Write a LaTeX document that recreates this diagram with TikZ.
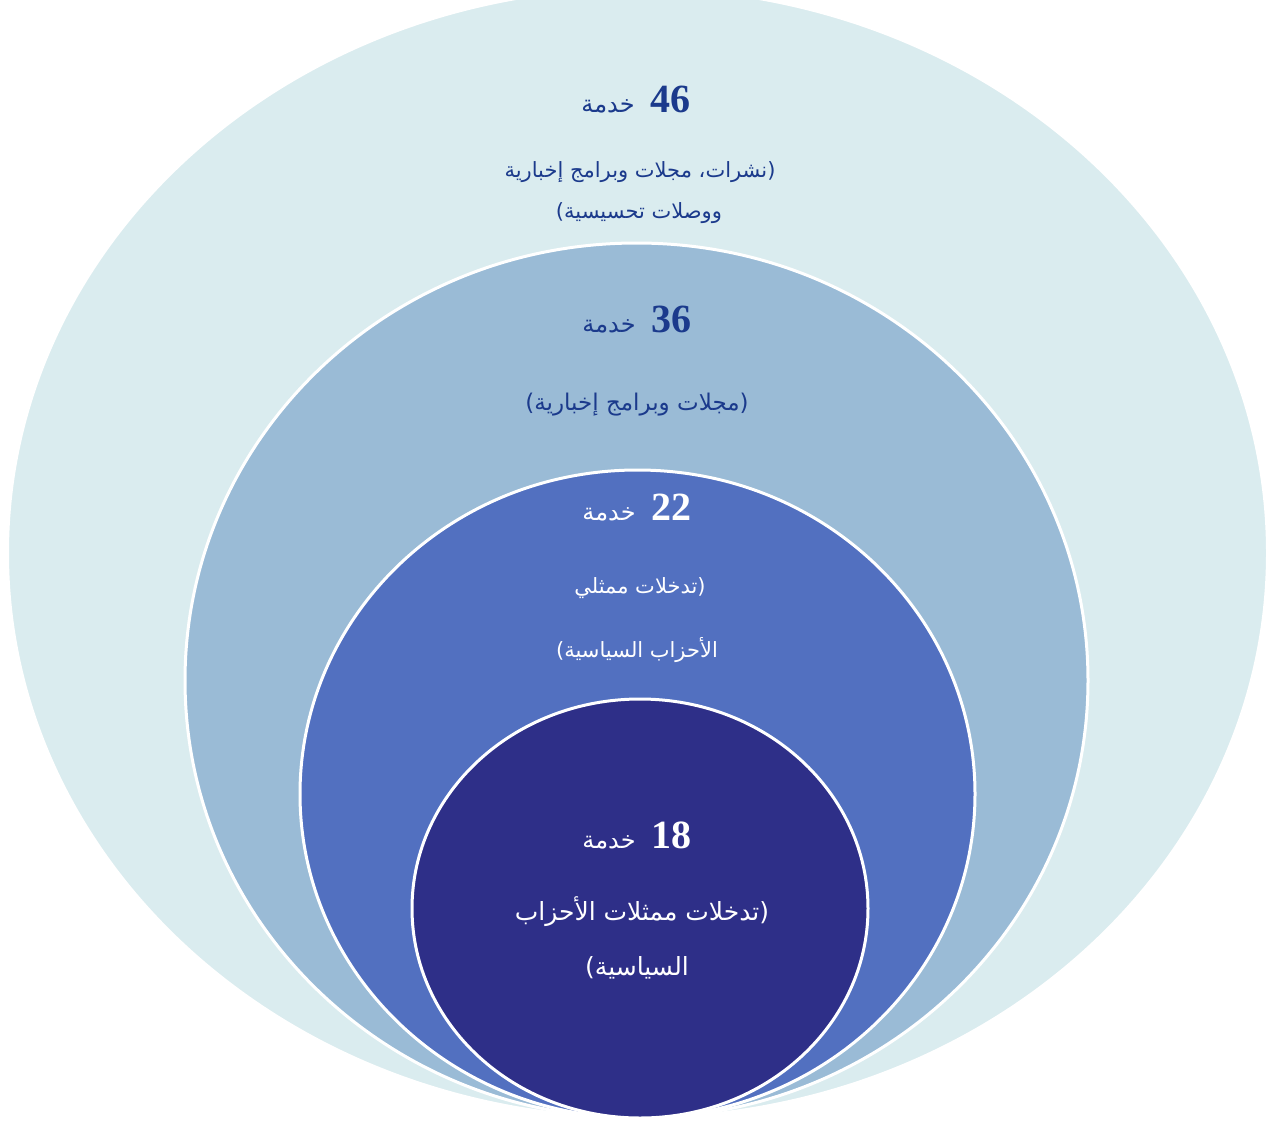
\documentclass[tikz,border=0pt]{standalone}
\usepackage{fontspec}
\usetikzlibrary{shapes.geometric}
\TeXXeTstate=1
\newfontfamily\arabicfont[Script=Arabic]{DejaVu Sans}
\newfontfamily\numfont{Liberation Serif}
\definecolor{ringA}{HTML}{DAECEF}
\definecolor{ringB}{HTML}{9ABBD6}
\definecolor{ringC}{HTML}{5270C0}
\definecolor{ringD}{HTML}{2E2F88}
\definecolor{navytxt}{HTML}{1B3A8C}
\tikzset{
  ring/.style={ellipse, draw=white, line width=3pt, inner sep=0pt},
  lbl/.style={inner sep=0pt, anchor=center},
  numlbl/.style={lbl},
  arA/.style={lbl, font=\fontsize{21}{24}\selectfont},
  arB/.style={lbl, font=\fontsize{23}{26}\selectfont},
  arC/.style={lbl, font=\fontsize{21}{24}\selectfont},
  arD/.style={lbl, font=\fontsize{25}{28}\selectfont},
}
\newcommand{\headline}[1]{{\arabicfont\fontsize{24}{26}\selectfont خدمة}\hspace{16pt}{\numfont\bfseries\fontsize{40}{42}\selectfont #1}}
\begin{document}
\begin{tikzpicture}[x=1pt,y=-1pt]
\useasboundingbox (0,0) rectangle (1279,1127);
\fill[white] (0,0) rectangle (1279,1127);
% rings
\node[ring, fill=ringA, minimum width=1260pt, minimum height=1130pt] (r1) at (637.5,553) {};
\node[ring, fill=ringB, minimum width=903pt, minimum height=875pt] (r2) at (636.5,680.5) {};
\node[ring, fill=ringC, minimum width=675pt, minimum height=648pt] (r3) at (637.5,794) {};
\node[ring, fill=ringD, minimum width=456pt, minimum height=419pt] (r4) at (640,908.5) {};
% outer ring texts
\node[numlbl, text=navytxt] (h1) at (636,100) {\headline{46}};
\node[arA, text=navytxt] (a1) at (640,172) {\arabicfont\beginR (نشرات، مجلات وبرامج إخبارية\endR};
\node[arA, text=navytxt] (b1) at (639,213) {\arabicfont\beginR ووصلات تحسيسية)\endR};
% second ring texts
\node[numlbl, text=navytxt] (h2) at (637,320) {\headline{36}};
\node[arB, text=navytxt] (a2) at (637,405) {\arabicfont\beginR (مجلات وبرامج إخبارية)\endR};
% third ring texts
\node[numlbl, text=white] (h3) at (637,508) {\headline{22}};
\node[arC, text=white] (a3) at (640,588) {\arabicfont\beginR (تدخلات ممثلي\endR};
\node[arC, text=white] (b3) at (637,650) {\arabicfont\beginR الأحزاب السياسية)\endR};
% inner ring texts
\node[numlbl, text=white] (h4) at (637,835) {\headline{18}};
\node[arD, text=white] (a4) at (642,912) {\arabicfont\beginR (تدخلات ممثلات الأحزاب\endR};
\node[arD, text=white] (b4) at (637,968) {\arabicfont\beginR السياسية)\endR};
\end{tikzpicture}
\end{document}
